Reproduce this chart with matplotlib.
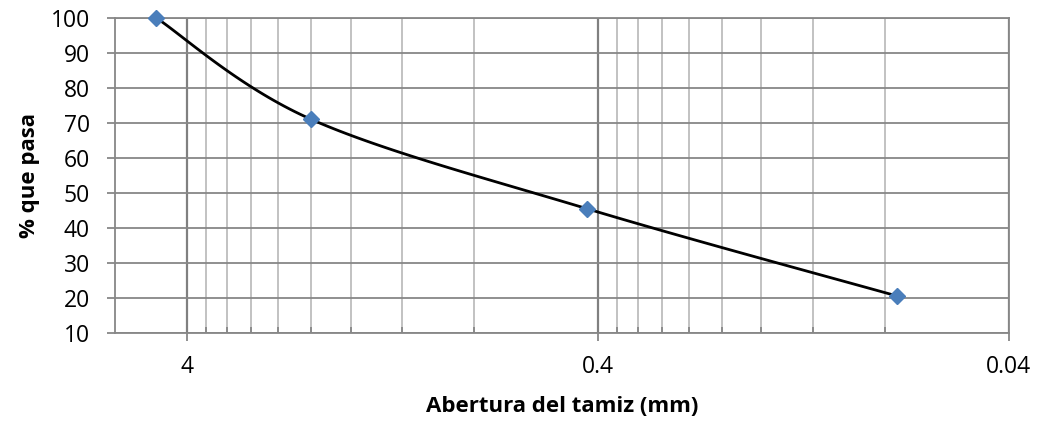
import matplotlib
matplotlib.use("Agg")
import matplotlib.pyplot as plt
import numpy as np
from matplotlib.ticker import FixedLocator, FixedFormatter, NullFormatter

# sieve analysis data
sieve_mm = [4.75, 2.0, 0.425, 0.075]
passing = [100.0, 71.1, 45.5, 20.6]

x_major = [4, 0.4, 0.04]
x_major_labels = ["4", "0.4", "0.04"]
y_ticks = list(range(10, 101, 10))

plt.rcParams['font.family'] = ['Open Sans', 'DejaVu Sans']


def smooth_path(xs, ys, sx, sy, n=40):
    # Excel-like smoothed line (Catmull-Rom bezier) done in screen scale
    u = np.log10(xs) * sx
    v = np.asarray(ys, dtype=float) * sy
    pts = np.column_stack([u, v])
    out = [pts[0]]
    for i in range(len(pts) - 1):
        p0 = pts[i - 1] if i > 0 else pts[i]
        p1 = pts[i]
        p2 = pts[i + 1]
        p3 = pts[i + 2] if i + 2 < len(pts) else pts[i + 1]
        c1 = p1 + (p2 - p0) / 6.0
        c2 = p2 - (p3 - p1) / 6.0
        t = np.linspace(0, 1, n)[1:, None]
        seg = ((1 - t) ** 3 * p1 + 3 * (1 - t) ** 2 * t * c1
               + 3 * (1 - t) * t ** 2 * c2 + t ** 3 * p2)
        out.extend(seg)
    out = np.array(out)
    return 10 ** (out[:, 0] / sx), out[:, 1] / sy


fig = plt.figure(figsize=(10.46, 4.23), dpi=100)
ax = fig.add_axes([0.110, 0.2128, 0.8544, 0.7446])

ax.set_xscale('log')
ax.set_xlim(5.99, 0.04)
ax.set_ylim(10, 100)

cx, cy = smooth_path(sieve_mm, passing, 411.0, 3.5)
ax.plot(cx, cy, color='black', lw=2.0, zorder=3)
ax.plot(sieve_mm, passing, linestyle='none', marker='D', markersize=8,
        color='#4A7EBB', mec='#4A7EBB', zorder=4, clip_on=False)

minor = [0.4 * k for k in range(2, 10)] + [0.04 * k for k in range(2, 10)]
ax.xaxis.set_major_locator(FixedLocator(x_major))
ax.xaxis.set_major_formatter(FixedFormatter(x_major_labels))
ax.xaxis.set_minor_locator(FixedLocator(minor))
ax.xaxis.set_minor_formatter(NullFormatter())
ax.set_yticks(y_ticks)

ax.grid(which='major', axis='y', color='#878787', lw=1.3, zorder=0)
ax.grid(which='major', axis='x', color='#808080', lw=1.6, zorder=0)
ax.grid(which='minor', axis='x', color='#bdbdbd', lw=1.3, zorder=0)
ax.set_axisbelow(True)

for s in ax.spines.values():
    s.set_color('#878787')
    s.set_linewidth(1.3)

ax.tick_params(axis='both', which='major', direction='out', length=6,
               width=1.3, color='#878787', labelsize=16.5)
ax.tick_params(axis='y', which='major', pad=12)
ax.tick_params(axis='x', which='major', pad=10)
ax.tick_params(axis='x', which='minor', direction='in', length=4,
               width=1.3, color='#878787')

ax.set_xlabel('Abertura del tamiz (mm)', fontsize=16, fontweight='bold')
ax.set_ylabel('% que pasa', fontsize=16, fontweight='bold')
ax.xaxis.set_label_coords(0.5, -0.232)
ax.xaxis.label.set_va('center')
ax.yaxis.set_label_coords(-0.096, 0.5)
ax.yaxis.label.set_va('center')

fig.savefig('out.png', dpi=100)
